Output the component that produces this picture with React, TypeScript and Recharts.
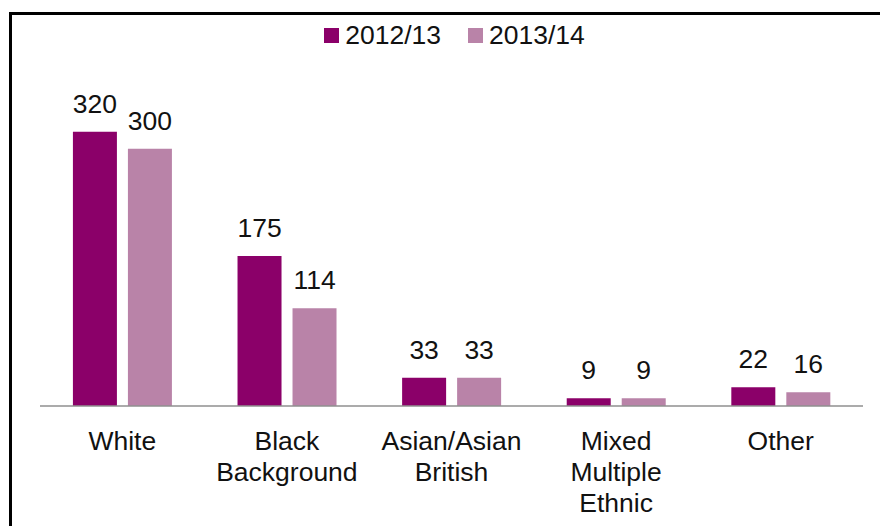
import React from "react";
import { BarChart, Bar, XAxis, YAxis, Legend, LabelList } from "recharts";

const categories = [
  "White",
  "Black Background",
  "Asian/Asian British",
  "Mixed Multiple Ethnic",
  "Other",
];
const values1213 = [320, 175, 33, 9, 22];
const values1314 = [300, 114, 33, 9, 16];
const seriesNames = ["2012/13", "2013/14"];

const DARK = "#8b0069";
const LIGHT = "#b983a8";
const FONT = '"Liberation Sans", Arial, Helvetica, sans-serif';
const FS = 26.5;

const data = categories.map((name, i) => ({
  name,
  a: values1213[i],
  b: values1314[i],
}));

function CategoryTick(props: any) {
  const { x, y, payload } = props;
  const lines = String(payload.value).split(" ");
  return (
    <text
      x={x}
      y={y + 44}
      textAnchor="middle"
      fill="#111"
      fontSize={FS}
      fontFamily={FONT}
    >
      {lines.map((l, i) => (
        <tspan key={i} x={x} dy={i === 0 ? 0 : 31}>
          {l}
        </tspan>
      ))}
    </text>
  );
}

function renderLegend(props: any) {
  const items = props.payload || [];
  return (
    <div
      style={{
        display: "flex",
        justifyContent: "center",
        paddingLeft: 6,
        fontFamily: FONT,
        fontSize: FS,
        color: "#111",
      }}
    >
      {items.map((it: any, i: number) => (
        <div
          key={i}
          style={{
            display: "flex",
            alignItems: "center",
            marginRight: i === items.length - 1 ? 0 : 27,
          }}
        >
          <span
            style={{
              display: "inline-block",
              width: 15,
              height: 15,
              background: it.color,
              marginRight: 6,
            }}
          />
          <span>{it.value}</span>
        </div>
      ))}
    </div>
  );
}

export default function App() {
  return (
    <div
      style={{
        position: "fixed",
        left: 0,
        top: 0,
        width: 880,
        height: 526,
        background: "#fff",
        overflow: "hidden",
      }}
    >
      <div
        style={{
          position: "absolute",
          left: 9,
          top: 12,
          width: 900,
          height: 540,
          borderLeft: "3px solid #000",
          borderTop: "3px solid #000",
        }}
      />
      <div style={{ position: "absolute", left: 0, top: 0 }}>
        <BarChart
          width={880}
          height={526}
          data={data}
          margin={{ top: 106, right: 17, bottom: 10, left: 40 }}
          barCategoryGap="20%"
          barGap={11}
        >
          <XAxis
            dataKey="name"
            height={110}
            interval={0}
            tickLine={false}
            tickSize={0}
            tickMargin={0}
            axisLine={{ stroke: "#8f8f8f", strokeWidth: 1.5 }}
            tick={<CategoryTick />}
          />
          <YAxis hide domain={[0, 350]} />
          <Legend
            verticalAlign="middle"
            layout="horizontal"
            align="center"
            wrapperStyle={{ top: 20, left: 40, width: 823 }}
            content={renderLegend}
          />
          <Bar dataKey="a" name={seriesNames[0]} fill={DARK} isAnimationActive={false}>
            <LabelList
              dataKey="a"
              position="top"
              offset={19}
              fill="#111"
              fontSize={FS}
              fontFamily={FONT}
            />
          </Bar>
          <Bar dataKey="b" name={seriesNames[1]} fill={LIGHT} isAnimationActive={false}>
            <LabelList
              dataKey="b"
              position="top"
              offset={19}
              fill="#111"
              fontSize={FS}
              fontFamily={FONT}
            />
          </Bar>
        </BarChart>
      </div>
    </div>
  );
}
